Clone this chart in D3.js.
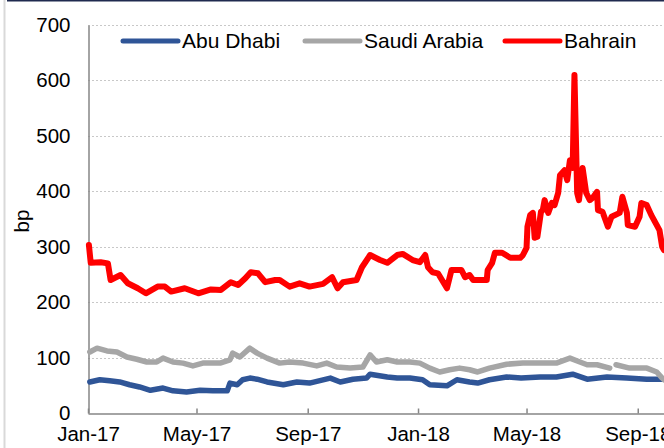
<!DOCTYPE html>
<html>
<head>
<meta charset="utf-8">
<script src="https://cdn.jsdelivr.net/npm/d3@7"></script>
<style>
  body { margin: 0; background: #fff; }
  svg { display: block; font-family: "Liberation Sans", Arial, sans-serif; }
</style>
</head>
<body>
<div id="chart"></div>
<script>
// spreads in bp
var abuDhabi = [
  ["2017-01-03", 56], ["2017-01-14", 60], ["2017-01-25", 58], ["2017-02-05", 56],
  ["2017-02-16", 51], ["2017-02-27", 47], ["2017-03-11", 41], ["2017-03-25", 45],
  ["2017-04-05", 40], ["2017-04-20", 38], ["2017-05-05", 41], ["2017-05-19", 40],
  ["2017-06-04", 40], ["2017-06-07", 54], ["2017-06-15", 51], ["2017-06-21", 60],
  ["2017-06-29", 63], ["2017-07-07", 61], ["2017-07-18", 56], ["2017-08-05", 51],
  ["2017-08-20", 56], ["2017-09-03", 54], ["2017-09-26", 63], ["2017-10-07", 56],
  ["2017-10-21", 61], ["2017-11-05", 63], ["2017-11-09", 70], ["2017-11-28", 65],
  ["2017-12-09", 63], ["2017-12-23", 63], ["2018-01-06", 60], ["2018-01-14", 51],
  ["2018-02-02", 49], ["2018-02-13", 60], ["2018-02-27", 56], ["2018-03-08", 54],
  ["2018-03-21", 60], ["2018-04-09", 65], ["2018-04-25", 63], ["2018-05-16", 65],
  ["2018-06-03", 65], ["2018-06-21", 70], ["2018-07-07", 61], ["2018-07-29", 65],
  ["2018-08-20", 63], ["2018-09-11", 61], ["2018-09-30", 61]
];

var saudiArabia = [
  ["2017-01-03", 110], ["2017-01-11", 117], ["2017-01-22", 112], ["2017-02-02", 110],
  ["2017-02-13", 101], ["2017-02-24", 97], ["2017-03-07", 92], ["2017-03-18", 92],
  ["2017-03-25", 99], ["2017-04-05", 92], ["2017-04-16", 90], ["2017-04-27", 85],
  ["2017-05-08", 90], ["2017-05-19", 90], ["2017-05-27", 90], ["2017-06-07", 96],
  ["2017-06-10", 108], ["2017-06-18", 101], ["2017-06-29", 117], ["2017-07-07", 108],
  ["2017-07-18", 99], ["2017-08-01", 90], ["2017-08-12", 92], ["2017-08-27", 90],
  ["2017-09-11", 85], ["2017-09-22", 90], ["2017-10-03", 83], ["2017-10-18", 81],
  ["2017-11-01", 83], ["2017-11-09", 105], ["2017-11-16", 92], ["2017-11-28", 96],
  ["2017-12-09", 92], ["2017-12-23", 92], ["2018-01-03", 90], ["2018-01-14", 81],
  ["2018-01-25", 74], ["2018-02-05", 78], ["2018-02-16", 81], ["2018-02-27", 78],
  ["2018-03-08", 74], ["2018-03-21", 81], ["2018-04-09", 88], ["2018-04-27", 90],
  ["2018-05-16", 90], ["2018-06-03", 90], ["2018-06-18", 99], ["2018-06-29", 92],
  ["2018-07-07", 87], ["2018-07-18", 87], ["2018-08-01", 81], ["2018-08-05", null],
  ["2018-08-08", 87], ["2018-08-23", 81], ["2018-09-11", 81], ["2018-09-22", 74],
  ["2018-09-28", 63], ["2018-09-30", 60]
];

var bahrain = [
  ["2017-01-02", 303], ["2017-01-04", 271], ["2017-01-15", 272], ["2017-01-23", 270],
  ["2017-01-26", 240], ["2017-02-06", 249], ["2017-02-14", 234], ["2017-02-25", 225],
  ["2017-03-06", 216], ["2017-03-19", 228], ["2017-03-27", 228], ["2017-04-03", 219],
  ["2017-04-18", 225], ["2017-05-03", 216], ["2017-05-17", 223], ["2017-05-28", 222],
  ["2017-06-08", 236], ["2017-06-16", 231], ["2017-06-24", 243], ["2017-06-30", 254],
  ["2017-07-08", 252], ["2017-07-16", 236], ["2017-07-27", 240], ["2017-08-01", 240],
  ["2017-08-12", 228], ["2017-08-23", 234], ["2017-09-03", 228], ["2017-09-18", 233],
  ["2017-09-28", 245], ["2017-10-04", 225], ["2017-10-10", 236], ["2017-10-25", 240],
  ["2017-10-31", 263], ["2017-11-09", 285], ["2017-11-20", 276], ["2017-11-28", 271],
  ["2017-12-09", 285], ["2017-12-15", 287], ["2017-12-26", 276], ["2018-01-03", 272],
  ["2018-01-09", 285], ["2018-01-12", 263], ["2018-01-17", 254], ["2018-01-23", 252],
  ["2018-02-02", 225], ["2018-02-07", 258], ["2018-02-18", 258], ["2018-02-22", 245],
  ["2018-02-27", 249], ["2018-03-03", 240], ["2018-03-10", 240], ["2018-03-18", 240],
  ["2018-03-19", 258], ["2018-03-24", 271], ["2018-03-27", 289], ["2018-04-04", 289],
  ["2018-04-13", 280], ["2018-04-24", 280], ["2018-04-27", 285], ["2018-05-01", 298],
  ["2018-05-02", 336], ["2018-05-05", 357], ["2018-05-08", 361], ["2018-05-10", 316],
  ["2018-05-13", 318], ["2018-05-17", 363], ["2018-05-19", 366], ["2018-05-21", 384],
  ["2018-05-25", 361], ["2018-05-29", 379], ["2018-06-01", 375], ["2018-06-05", 397],
  ["2018-06-07", 429], ["2018-06-12", 438], ["2018-06-15", 420], ["2018-06-18", 456],
  ["2018-06-21", 442], ["2018-06-23", 610], ["2018-06-26", 397], ["2018-06-28", 384],
  ["2018-07-02", 442], ["2018-07-06", 397], ["2018-07-10", 384], ["2018-07-13", 388],
  ["2018-07-18", 399], ["2018-07-19", 366], ["2018-07-24", 363], ["2018-07-30", 336],
  ["2018-08-03", 354], ["2018-08-12", 361], ["2018-08-15", 390], ["2018-08-20", 361],
  ["2018-08-21", 339], ["2018-08-29", 336], ["2018-09-03", 354], ["2018-09-05", 379],
  ["2018-09-11", 375], ["2018-09-16", 357], ["2018-09-22", 339], ["2018-09-25", 330],
  ["2018-09-28", 300], ["2018-09-30", 294]
];

var seriesNames = ["Abu Dhabi", "Saudi Arabia", "Bahrain"];
var seriesColors = ["#2f5597", "#a6a6a6", "#ff0000"];
var tickDates = ["2017-01-01", "2017-05-01", "2017-09-01", "2018-01-01", "2018-05-01", "2018-09-01"];
var tickLabels = ["Jan-17", "May-17", "Sep-17", "Jan-18", "May-18", "Sep-18"];
var yTicks = [0, 100, 200, 300, 400, 500, 600, 700];

var parse = d3.timeParse("%Y-%m-%d");
var outerWidth = 664, outerHeight = 448;

var svg = d3.select("#chart").append("svg")
    .attr("width", outerWidth)
    .attr("height", outerHeight);

// frame bits from the source slide
svg.append("line")
    .attr("x1", 4.5).attr("x2", 4.5).attr("y1", 0).attr("y2", outerHeight)
    .attr("stroke", "#d9d9d9").attr("stroke-width", 2);
svg.append("line")
    .attr("x1", 7).attr("x2", outerWidth).attr("y1", 0.5).attr("y2", 0.5)
    .attr("stroke", "#1f2a4f").attr("stroke-width", 2);

var x = d3.scaleTime()
    .domain([parse("2017-01-01"), parse("2018-10-31")])
    .range([88, 692]);

var y = d3.scaleLinear()
    .domain([0, 700])
    .range([413, 25]);

// gridlines
svg.append("g").selectAll("line")
    .data(yTicks.filter(function(d) { return d > 0; }))
    .enter().append("line")
    .attr("x1", x.range()[0]).attr("x2", outerWidth)
    .attr("y1", function(d) { return Math.round(y(d)) + 0.5; })
    .attr("y2", function(d) { return Math.round(y(d)) + 0.5; })
    .attr("stroke", "#c8c8c8")
    .attr("stroke-dasharray", "2,2");

// y axis
var yAxis = d3.axisLeft(y).tickValues(yTicks).tickSize(0).tickPadding(18);
var gy = svg.append("g")
    .attr("transform", "translate(88.5,0)")
    .call(yAxis);
gy.select(".domain").attr("stroke", "#868686").attr("stroke-width", 1.5);
gy.selectAll("text").style("font-size", "20.5px").attr("fill", "#000");

// x axis
var xAxis = d3.axisBottom(x)
    .tickValues(tickDates.map(parse))
    .tickFormat(function(d, i) { return tickLabels[i]; })
    .tickSizeInner(-5).tickSizeOuter(0).tickPadding(13);
var gx = svg.append("g")
    .attr("transform", "translate(0,413.5)")
    .call(xAxis);
gx.select(".domain").attr("stroke", "#868686").attr("stroke-width", 1.5);
gx.selectAll(".tick line").attr("stroke", "#868686").attr("stroke-width", 1.5);
gx.selectAll("text").style("font-size", "20.5px").attr("fill", "#000");

svg.append("text")
    .attr("transform", "translate(29,221) rotate(-90)")
    .attr("text-anchor", "middle")
    .style("font-size", "20.5px")
    .text("bp");

// lines
var line = d3.line()
    .defined(function(d) { return d[1] !== null; })
    .x(function(d) { return x(parse(d[0])); })
    .y(function(d) { return y(d[1]); });

[abuDhabi, saudiArabia, bahrain].forEach(function(data, i) {
  svg.append("path")
      .datum(data)
      .attr("fill", "none")
      .attr("stroke", seriesColors[i])
      .attr("stroke-width", i == 2 ? 6 : 5.5)
      .attr("stroke-linejoin", "round")
      .attr("stroke-linecap", "round")
      .attr("d", line);
});

// legend
var legendX = [123, 305, 505];
var legend = svg.append("g").selectAll("g")
    .data(seriesNames)
    .enter().append("g")
    .attr("transform", function(d, i) { return "translate(" + legendX[i] + ",41)"; });
legend.append("line")
    .attr("x1", 0).attr("x2", 55)
    .attr("stroke", function(d, i) { return seriesColors[i]; })
    .attr("stroke-width", 5)
    .attr("stroke-linecap", "round");
legend.append("text")
    .attr("x", 59).attr("y", 7)
    .style("font-size", "21px")
    .text(function(d) { return d; });
</script>
</body>
</html>
